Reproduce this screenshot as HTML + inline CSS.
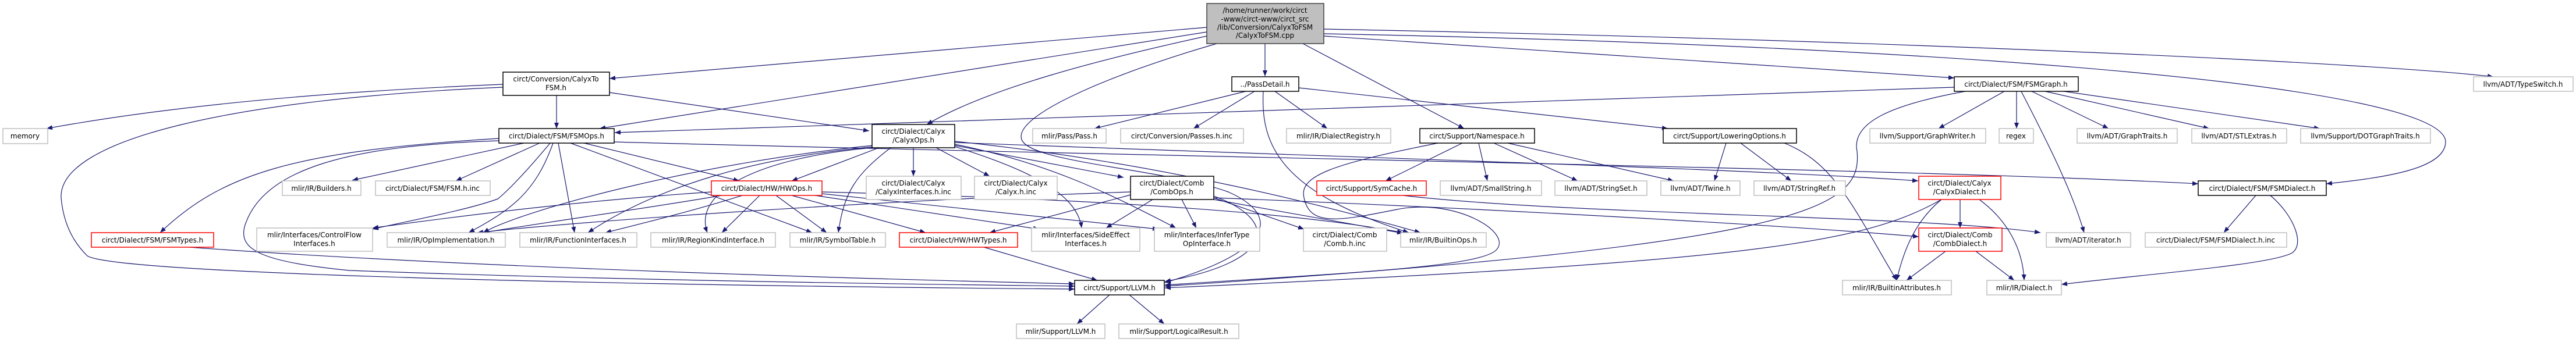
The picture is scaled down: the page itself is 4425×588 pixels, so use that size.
<!DOCTYPE html>
<html><head><meta charset="utf-8"><style>
html,body{margin:0;padding:0;background:#fff;}
svg{display:block;}
text{font-family:"DejaVu Sans","Liberation Sans",sans-serif;font-size:12px;fill:#000;}
.g{fill:#fff;stroke:#bfbfbf;stroke-width:1.5}
.b{fill:#fff;stroke:#000;stroke-width:1.5}
.r{fill:#fff;stroke:#ff0000;stroke-width:1.5}
.root{fill:#bfbfbf;stroke:#404040;stroke-width:1.5}
.e path{fill:none;stroke:#191970;stroke-width:1.2;marker-end:url(#a)}
</style></head><body>
<svg width="4425" height="588" viewBox="0 0 4425 588" xmlns="http://www.w3.org/2000/svg">
<defs><marker id="a" markerUnits="userSpaceOnUse" markerWidth="11" markerHeight="8" refX="10" refY="4" orient="auto"><path d="M0,0 L10,4 L0,8 z" fill="#191970"/></marker></defs>
<g class="e">
<path d="M2073,47 L1047,135"/>
<path d="M2073,55 L1030,221"/>
<path d="M2073,62 C1900,100 1700,150 1592,214"/>
<path d="M2173,75 L2173,131"/>
<path d="M2238,75 L2515,221"/>
<path d="M2274,62 L3357,134"/>
<path d="M2274,50 C3300,70 4100,110 4283,132"/>
<path d="M2274,58 C3400,80 4200,150 4201,244 C4200,290 4100,305 3996,316"/>
<path d="M2090,75 C1900,130 1740,200 1755,240 C1770,280 2000,290 2110,330 C2200,370 2190,430 2001,486"/>
<path d="M2140,157 L1880,221"/>
<path d="M2155,157 L2050,221"/>
<path d="M2190,157 L2280,221"/>
<path d="M2231,151 L2865,221"/>
<path d="M2170,157 C2165,250 2200,330 2420,400"/>
<path d="M956,164 L956,221"/>
<path d="M1047,159 L1493,225"/>
<path d="M864,145 C500,160 250,190 80,221"/>
<path d="M864,150 C400,170 100,240 105,340 C110,400 140,430 150,440 C200,470 1000,490 1846,497"/>
<path d="M3357,150 C2500,180 1500,210 1056,228"/>
<path d="M857,238 C500,260 380,300 275,400"/>
<path d="M857,242 C600,250 450,290 420,390 C410,430 450,450 600,465 C1000,480 1500,488 1846,492"/>
<path d="M900,246 L605,310"/>
<path d="M927,246 L783,311"/>
<path d="M945,246 C900,300 870,330 855,342 C800,362 700,380 640,394"/>
<path d="M950,246 C920,330 880,360 805,400"/>
<path d="M959,246 L987,400"/>
<path d="M980,246 L1395,400"/>
<path d="M1003,246 L1270,311"/>
<path d="M1055,244 C2000,270 3300,290 3776,316"/>
<path d="M1569,254 L1569,303"/>
<path d="M1608,254 L1700,303"/>
<path d="M1640,250 L1930,305"/>
<path d="M1640,245 C2300,270 3000,290 3295,311"/>
<path d="M1510,254 L1360,311"/>
<path d="M1500,250 C1200,280 900,360 830,400"/>
<path d="M1505,252 C1300,270 1130,320 1010,400"/>
<path d="M1510,253 C1300,270 1190,330 1215,400"/>
<path d="M1530,254 C1470,300 1450,330 1440,400"/>
<path d="M1640,252 C1760,290 1850,330 1858,392"/>
<path d="M1640,248 C1800,280 1900,330 2020,392"/>
<path d="M1640,243 C2000,280 2300,360 2440,400"/>
<path d="M1222,330 C1000,345 800,370 640,392"/>
<path d="M1240,336 C1100,360 950,380 830,400"/>
<path d="M1275,336 C1200,360 1100,385 1040,400"/>
<path d="M1305,336 L1240,400"/>
<path d="M1333,336 L1420,400"/>
<path d="M1360,336 L1590,400"/>
<path d="M1400,336 L1785,394"/>
<path d="M1412,333 L1990,394"/>
<path d="M1412,330 C1800,340 2200,360 2410,400"/>
<path d="M2085,340 L2240,394"/>
<path d="M1980,343 L1900,392"/>
<path d="M2030,343 L2055,392"/>
<path d="M1942,335 L1700,400"/>
<path d="M2085,337 C2200,380 2190,450 2001,484"/>
<path d="M2085,340 C2600,360 3100,390 3296,407"/>
<path d="M1942,330 C1500,345 1000,380 820,400"/>
<path d="M2085,343 L2410,401"/>
<path d="M1690,425 L1885,482"/>
<path d="M1906,507 L1850,557"/>
<path d="M1940,507 L2000,557"/>
<path d="M325,425 C800,460 1500,480 1846,488"/>
<path d="M2512,246 L2380,311"/>
<path d="M2540,246 L2555,311"/>
<path d="M2566,246 L2710,311"/>
<path d="M2590,246 L2875,311"/>
<path d="M2470,246 C2300,280 2230,300 2240,340 C2250,390 2300,380 2400,360 C2500,340 2600,400 2570,430 C2540,460 2300,470 2001,490"/>
<path d="M2410,336 C2700,370 3300,370 3505,400"/>
<path d="M2965,246 L2945,311"/>
<path d="M2990,246 L3077,311"/>
<path d="M3065,246 C3150,280 3180,350 3258,482"/>
<path d="M3443,157 L3330,221"/>
<path d="M3464,157 L3464,221"/>
<path d="M3490,157 L3622,221"/>
<path d="M3513,157 L3795,221"/>
<path d="M3545,157 L3985,221"/>
<path d="M3472,157 C3520,250 3560,330 3580,400"/>
<path d="M3376,157 C3250,180 3180,210 3190,260 C3200,360 3100,420 2001,492"/>
<path d="M3367,343 L3367,392"/>
<path d="M3335,343 C3290,380 3270,430 3258,482"/>
<path d="M3400,343 C3450,380 3475,430 3477,482"/>
<path d="M3335,343 C3200,420 3000,450 2001,495"/>
<path d="M3342,432 L3275,482"/>
<path d="M3394,432 L3460,482"/>
<path d="M3875,336 L3820,400"/>
<path d="M3900,336 C3940,370 3960,420 3937,435 C3900,455 3700,470 3541,489"/>
</g>
<g text-anchor="middle">
<rect class="root" x="2073" y="6" width="201" height="69"/>
<text x="2173" y="22">/home/runner/work/circt</text>
<text x="2173" y="37">-www/circt-www/circt_src</text>
<text x="2173" y="51">/lib/Conversion/CalyxToFSM</text>
<text x="2173" y="65">/CalyxToFSM.cpp</text>

<rect class="b" x="864" y="124" width="183" height="40"/><text x="955" y="140">circt/Conversion/CalyxTo</text><text x="955" y="155">FSM.h</text>
<rect class="b" x="857" y="221" width="198" height="25"/><text x="956" y="238">circt/Dialect/FSM/FSMOps.h</text>
<rect class="b" x="1498" y="214" width="142" height="40"/><text x="1569" y="230">circt/Dialect/Calyx</text><text x="1569" y="245">/CalyxOps.h</text>
<rect class="b" x="2116" y="132" width="115" height="25"/><text x="2173" y="149">../PassDetail.h</text>
<rect class="b" x="2439" y="221" width="197" height="25"/><text x="2537" y="238">circt/Support/Namespace.h</text>
<rect class="b" x="2857" y="221" width="229" height="25"/><text x="2971" y="238">circt/Support/LoweringOptions.h</text>
<rect class="b" x="3357" y="132" width="213" height="25"/><text x="3463" y="149">circt/Dialect/FSM/FSMGraph.h</text>
<rect class="g" x="4249" y="132" width="171" height="25"/><text x="4334" y="149">llvm/ADT/TypeSwitch.h</text>
<rect class="g" x="5" y="221" width="77" height="26"/><text x="43" y="238">memory</text>
<rect class="g" x="1774" y="221" width="126" height="25"/><text x="1837" y="238">mlir/Pass/Pass.h</text>
<rect class="g" x="1925" y="221" width="211" height="25"/><text x="2030" y="238">circt/Conversion/Passes.h.inc</text>
<rect class="g" x="2210" y="221" width="179" height="25"/><text x="2299" y="238">mlir/IR/DialectRegistry.h</text>
<rect class="g" x="3212" y="221" width="199" height="25"/><text x="3311" y="238">llvm/Support/GraphWriter.h</text>
<rect class="g" x="3434" y="221" width="59" height="25"/><text x="3463" y="238">regex</text>
<rect class="g" x="3568" y="221" width="172" height="25"/><text x="3654" y="238">llvm/ADT/GraphTraits.h</text>
<rect class="g" x="3765" y="221" width="163" height="25"/><text x="3846" y="238">llvm/ADT/STLExtras.h</text>
<rect class="g" x="3952" y="221" width="223" height="25"/><text x="4063" y="238">llvm/Support/DOTGraphTraits.h</text>
<rect class="g" x="485" y="311" width="135" height="25"/><text x="552" y="328">mlir/IR/Builders.h</text>
<rect class="g" x="645" y="311" width="197" height="25"/><text x="743" y="328">circt/Dialect/FSM/FSM.h.inc</text>
<rect class="r" x="1222" y="311" width="190" height="25"/><text x="1317" y="328">circt/Dialect/HW/HWOps.h</text>
<rect class="g" x="1488" y="303" width="163" height="40"/><text x="1569" y="319">circt/Dialect/Calyx</text><text x="1569" y="334">/CalyxInterfaces.h.inc</text>
<rect class="g" x="1674" y="303" width="142" height="40"/><text x="1745" y="319">circt/Dialect/Calyx</text><text x="1745" y="334">/Calyx.h.inc</text>
<rect class="b" x="1942" y="303" width="143" height="40"/><text x="2013" y="319">circt/Dialect/Comb</text><text x="2013" y="334">/CombOps.h</text>
<rect class="r" x="2262" y="311" width="188" height="25"/><text x="2356" y="328">circt/Support/SymCache.h</text>
<rect class="g" x="2474" y="311" width="174" height="25"/><text x="2561" y="328">llvm/ADT/SmallString.h</text>
<rect class="g" x="2671" y="311" width="158" height="25"/><text x="2750" y="328">llvm/ADT/StringSet.h</text>
<rect class="g" x="2853" y="311" width="136" height="25"/><text x="2921" y="328">llvm/ADT/Twine.h</text>
<rect class="g" x="3013" y="311" width="157" height="25"/><text x="3091" y="328">llvm/ADT/StringRef.h</text>
<rect class="r" x="3296" y="303" width="141" height="40"/><text x="3366" y="319">circt/Dialect/Calyx</text><text x="3366" y="334">/CalyxDialect.h</text>
<rect class="b" x="3776" y="311" width="220" height="25"/><text x="3886" y="328">circt/Dialect/FSM/FSMDialect.h</text>
<rect class="r" x="157" y="400" width="210" height="25"/><text x="262" y="417">circt/Dialect/FSM/FSMTypes.h</text>
<rect class="g" x="441" y="392" width="199" height="40"/><text x="540" y="408">mlir/Interfaces/ControlFlow</text><text x="540" y="423">Interfaces.h</text>
<rect class="g" x="665" y="400" width="203" height="25"/><text x="766" y="417">mlir/IR/OpImplementation.h</text>
<rect class="g" x="893" y="400" width="201" height="25"/><text x="993" y="417">mlir/IR/FunctionInterfaces.h</text>
<rect class="g" x="1118" y="400" width="214" height="25"/><text x="1225" y="417">mlir/IR/RegionKindInterface.h</text>
<rect class="g" x="1357" y="400" width="164" height="25"/><text x="1439" y="417">mlir/IR/SymbolTable.h</text>
<rect class="r" x="1545" y="400" width="203" height="25"/><text x="1646" y="417">circt/Dialect/HW/HWTypes.h</text>
<rect class="g" x="1772" y="392" width="186" height="40"/><text x="1865" y="408">mlir/Interfaces/SideEffect</text><text x="1865" y="423">Interfaces.h</text>
<rect class="g" x="1983" y="392" width="181" height="40"/><text x="2073" y="408">mlir/Interfaces/InferType</text><text x="2073" y="423">OpInterface.h</text>
<rect class="g" x="2239" y="392" width="143" height="40"/><text x="2310" y="408">circt/Dialect/Comb</text><text x="2310" y="423">/Comb.h.inc</text>
<rect class="g" x="2406" y="400" width="147" height="25"/><text x="2479" y="417">mlir/IR/BuiltinOps.h</text>
<rect class="g" x="3515" y="400" width="145" height="25"/><text x="3587" y="417">llvm/ADT/iterator.h</text>
<rect class="r" x="3296" y="392" width="143" height="40"/><text x="3367" y="408">circt/Dialect/Comb</text><text x="3367" y="423">/CombDialect.h</text>
<rect class="g" x="3685" y="400" width="243" height="25"/><text x="3806" y="417">circt/Dialect/FSM/FSMDialect.h.inc</text>
<rect class="b" x="1846" y="482" width="154" height="25"/><text x="1923" y="499">circt/Support/LLVM.h</text>
<rect class="g" x="3165" y="482" width="187" height="25"/><text x="3258" y="499">mlir/IR/BuiltinAttributes.h</text>
<rect class="g" x="3413" y="482" width="128" height="25"/><text x="3477" y="499">mlir/IR/Dialect.h</text>
<rect class="g" x="1746" y="557" width="152" height="25"/><text x="1822" y="574">mlir/Support/LLVM.h</text>
<rect class="g" x="1922" y="557" width="206" height="25"/><text x="2025" y="574">mlir/Support/LogicalResult.h</text>
</g>
</svg>
</body></html>
